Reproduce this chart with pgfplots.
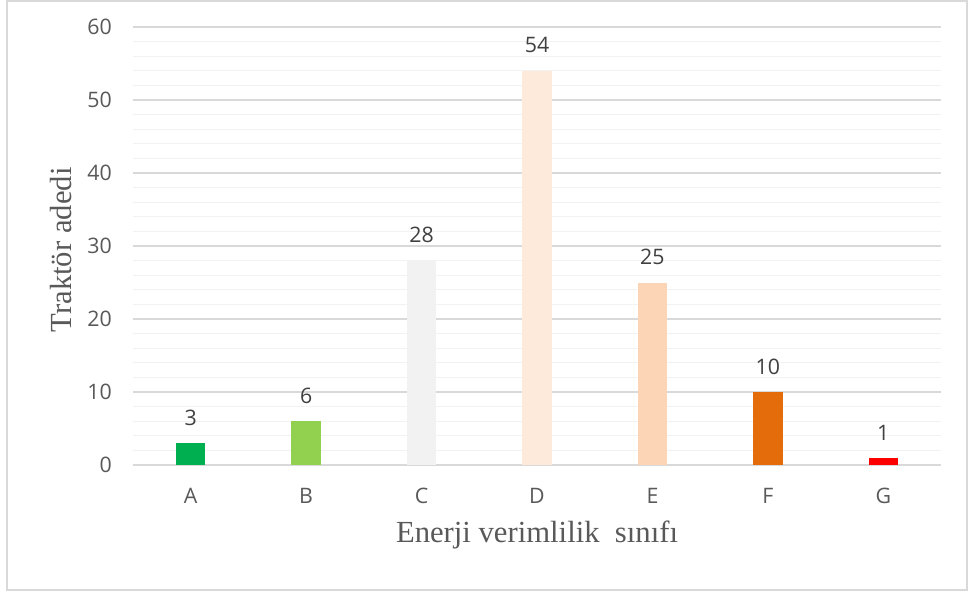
\documentclass[border=0pt]{standalone}
\usepackage{pgfplots}
\pgfplotsset{compat=1.18}
\usepackage{fontspec}
\setmainfont{Liberation Serif}
\newfontfamily\calfont{Open Sans}
\definecolor{cA}{HTML}{00B050}
\definecolor{cB}{HTML}{92D050}
\definecolor{cC}{HTML}{F2F2F2}
\definecolor{cD}{HTML}{FDEADA}
\definecolor{cE}{HTML}{FBD5B5}
\definecolor{cF}{HTML}{E46C0A}
\definecolor{cG}{HTML}{FF0000}
\definecolor{gridmaj}{HTML}{D9D9D9}
\definecolor{gridmin}{HTML}{F2F2F2}
\definecolor{txtgray}{HTML}{595959}
\definecolor{lblgray}{HTML}{404040}
\definecolor{framegray}{HTML}{D9D9D9}
\begin{document}
\begin{tikzpicture}
\useasboundingbox (0,0) rectangle (726.75pt,444pt);
\fill[white] (0,0) rectangle (726.75pt,444pt);
\draw[framegray, line width=1.5pt] (5.6pt,1.6pt) rectangle (724.9pt,443.2pt);
\begin{axis}[
  at={(99.75pt,95.25pt)}, anchor=south west,
  scale only axis, width=606pt, height=328.5pt,
  ymin=0, ymax=60, xmin=-0.5, xmax=6.5,
  clip=false,
  ytick={0,10,...,60},
  minor ytick={2,4,6,8,12,14,16,18,22,24,26,28,32,34,36,38,42,44,46,48,52,54,56,58},
  ymajorgrids, yminorgrids,
  major grid style={draw=gridmaj, line width=0.9pt},
  minor grid style={draw=gridmin, line width=0.9pt},
  axis line style={draw=none},
  major tick length=0pt, minor tick length=0pt,
  xtick={0,...,6}, xticklabels={A,B,C,D,E,F,G},
  /pgf/number format/assume math mode=true,
  tick label style={font=\calfont\fontsize{16}{19}\selectfont, text=txtgray, inner sep=0pt},
  xticklabel style={anchor=north, yshift=-17pt},
  yticklabel style={anchor=east, xshift=-15.75pt},
  ybar, bar width=22pt, bar shift=0pt,
  nodes near coords,
  nodes near coords style={font=\calfont\fontsize{16}{19}\selectfont, text=lblgray, anchor=south, inner sep=0pt, yshift=13pt},
  xlabel={Enerji verimlilik\ \ sınıfı},
  ylabel={Traktör adedi},
  label style={font=\fontsize{23}{26}\selectfont, text=txtgray},
  xlabel style={at={(axis description cs:0.5,-0.178)}, anchor=base},
  ylabel style={at={(axis description cs:-0.0755,0.491)}, anchor=base},
]
\addplot[fill=cA, draw=none] coordinates {(0,3)};
\addplot[fill=cB, draw=none] coordinates {(1,6)};
\addplot[fill=cC, draw=none] coordinates {(2,28)};
\addplot[fill=cD, draw=none] coordinates {(3,54)};
\addplot[fill=cE, draw=none] coordinates {(4,25)};
\addplot[fill=cF, draw=none] coordinates {(5,10)};
\addplot[fill=cG, draw=none] coordinates {(6,1)};
\end{axis}
\end{tikzpicture}
\end{document}
